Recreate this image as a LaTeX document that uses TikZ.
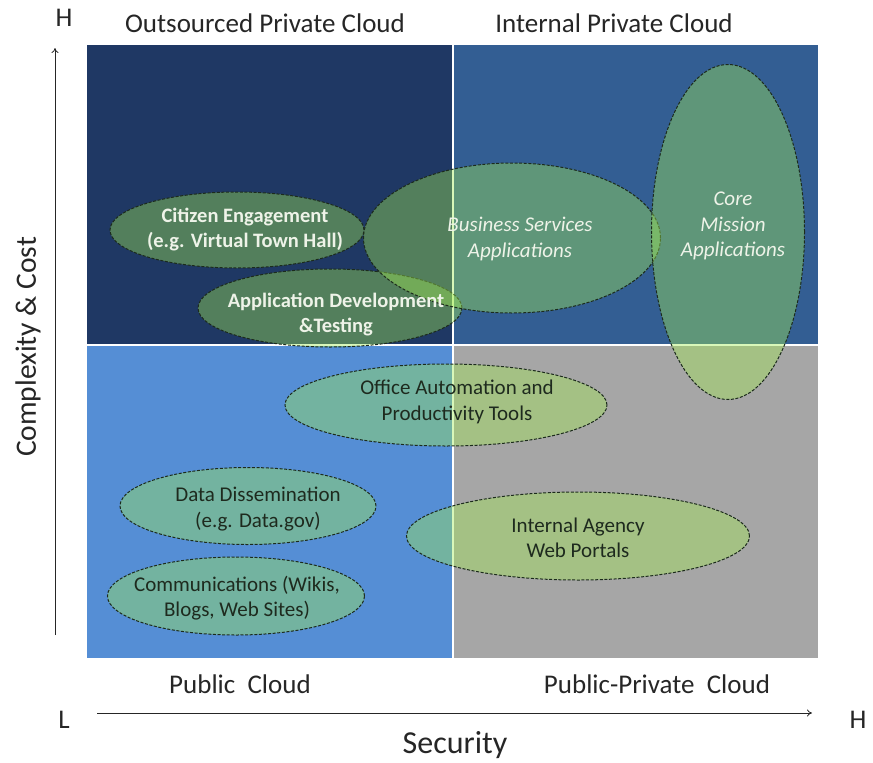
\documentclass[tikz,border=0pt]{standalone}
\usepackage{fontspec}
\setmainfont{Carlito}
\usetikzlibrary{shapes.geometric,arrows.meta}
\definecolor{navy}{HTML}{1F3864}
\definecolor{steel}{HTML}{335E93}
\definecolor{sky}{HTML}{558ED5}
\definecolor{ash}{HTML}{A6A6A6}
\definecolor{leaf}{RGB}{162,235,82}
\definecolor{rim}{HTML}{1C2B1C}
\definecolor{ink}{HTML}{262626}
\definecolor{paletext}{HTML}{EEF3E8}
\definecolor{darktext}{HTML}{1E2A1E}
\begin{document}
\begin{tikzpicture}[x=1pt,y=-1pt,
  bubble/.style={ellipse, draw=rim, dash pattern=on 3pt off 1.6pt, line width=1pt,
    fill=leaf, fill opacity=0.4, draw opacity=1, inner sep=0pt},
  lighttxt/.style={text=paletext, align=center, font=\fontsize{20.5}{25}\selectfont\bfseries},
  italtxt/.style={text=paletext, align=center, font=\fontsize{21}{25.5}\selectfont\itshape},
  darktxt/.style={text=darktext, align=center, font=\fontsize{21}{25.5}\selectfont},
  headtxt/.style={text=ink, font=\fontsize{27}{30}\selectfont},
  axis/.style={draw=ink, line width=0.8pt, -{To[length=5pt,width=7pt]}}]
\useasboundingbox (0,0) rectangle (873,763);

% quadrant backgrounds
\fill[navy]  (87,45)   rectangle (453,345);
\fill[steel] (453,45)  rectangle (818,345);
\fill[sky]   (87,345)  rectangle (453,658);
\fill[ash]   (453,345) rectangle (818,658);
\draw[white, line width=2pt] (453,45) -- (453,658);
\draw[white, line width=2pt] (87,345) -- (818,345);

% application bubbles
\node[bubble, minimum width=254pt, minimum height=76pt] (citizen) at (237,230) {};
\node[bubble, minimum width=264pt, minimum height=78pt] (appdev) at (330,308) {};
\node[bubble, minimum width=297pt, minimum height=150pt] (business) at (512,238) {};
\node[bubble, minimum width=153pt, minimum height=335pt] (core) at (728,232) {};
\node[bubble, minimum width=322pt, minimum height=82pt] (office) at (446,405) {};
\node[bubble, minimum width=256pt, minimum height=77pt] (data) at (248,506) {};
\node[bubble, minimum width=257pt, minimum height=78pt] (comms) at (236,596) {};
\node[bubble, minimum width=343pt, minimum height=88pt] (portals) at (578,536) {};

% bubble captions
\node[lighttxt] (citizentxt) at (245,230) {Citizen Engagement\\(e.g. Virtual Town Hall)};
\node[lighttxt] (appdevtxt) at (336,315) {Application Development\\\&Testing};
\node[italtxt] (businesstxt) at (520,239) {Business Services\\Applications};
\node[italtxt] (coretxt) at (733,226) {Core\\Mission\\Applications};
\node[darktxt] (officetxt) at (457,402) {Office Automation and\\Productivity Tools};
\node[darktxt] (datatxt) at (258,509) {Data Dissemination\\(e.g. Data.gov)};
\node[darktxt] (commstxt) at (237,598) {Communications (Wikis,\\Blogs, Web Sites)};
\node[darktxt] (portalstxt) at (578,538) {Internal Agency\\Web Portals};

% quadrant titles
\node[headtxt] (outsourced) at (265,23) {Outsourced Private Cloud};
\node[headtxt] (internal) at (614,23) {Internal Private Cloud};
\node[headtxt] (public) at (240,684) {Public\ \ Cloud};
\node[headtxt] (pubpriv) at (657,684) {Public-Private\ \ Cloud};

% axes
\node[headtxt] (yhigh) at (64,18) {H};
\node[headtxt] (xlow) at (64,720) {L};
\node[headtxt] (xhigh) at (858,720) {H};
\coordinate (ybase) at (55,635);
\coordinate (ytip) at (55,48);
\coordinate (xbase) at (97,713);
\coordinate (xtip) at (812,713);
\draw[axis] (ybase) -- (ytip);
\draw[axis] (xbase) -- (xtip);
\node[text=ink, font=\fontsize{32}{34}\selectfont] (security) at (455,745) {Security};
\node[text=ink, font=\fontsize{29.5}{32}\selectfont, rotate=90] (complexity) at (28,347) {Complexity \& Cost};
\end{tikzpicture}
\end{document}
